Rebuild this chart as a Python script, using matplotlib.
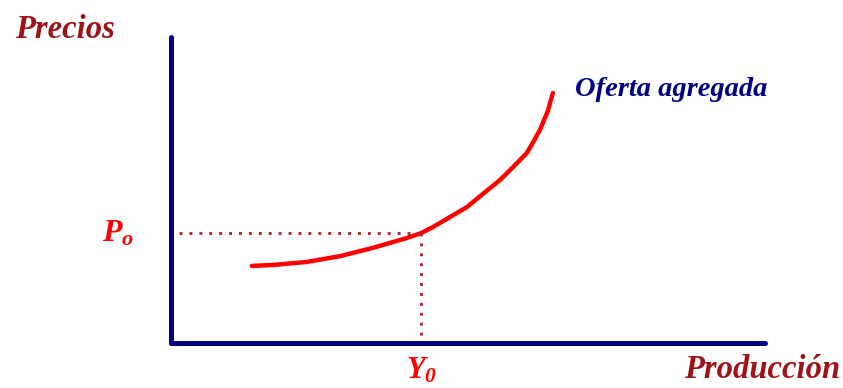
import matplotlib
matplotlib.use("Agg")
import matplotlib.pyplot as plt

# Curva de oferta agregada (unidades del gráfico, 0-10 en cada eje)
produccion = [1.36, 1.72, 2.29, 2.85, 3.40, 3.97, 4.21, 4.41, 4.70, 4.98,
              5.25, 5.54, 5.76, 5.99, 6.09, 6.21, 6.26, 6.35, 6.38, 6.43]
precios = [2.52, 2.55, 2.65, 2.84, 3.11, 3.43, 3.59, 3.79, 4.12, 4.44,
           4.87, 5.33, 5.75, 6.21, 6.54, 6.96, 7.19, 7.61, 7.84, 8.17]

# Punto de equilibrio
y0 = 4.21
p0 = 3.59

plt.rcParams['mathtext.fontset'] = 'custom'
plt.rcParams['mathtext.it'] = 'Liberation Serif:italic:bold'
plt.rcParams['mathtext.rm'] = 'Liberation Serif:italic:bold'

fuente = dict(family='Liberation Serif', style='italic', weight='bold')
rojo_oscuro = '#9E1318'
azul = '#000080'

fig = plt.figure(figsize=(8.43, 3.88), dpi=100)
ax = fig.add_axes([171 / 843, 45 / 388, 594 / 843, 306 / 388])
ax.set_xlim(0, 10)
ax.set_ylim(0, 10)

# Ejes
for lado in ['top', 'right']:
    ax.spines[lado].set_visible(False)
for lado in ['left', 'bottom']:
    ax.spines[lado].set_color(azul)
    ax.spines[lado].set_linewidth(3.6)
    ax.spines[lado].set_capstyle('round')
ax.set_xticks([])
ax.set_yticks([])
ax.patch.set_alpha(0)

# Curva
ax.plot(produccion, precios, color='#FF0000', lw=3.2, solid_capstyle='round',
        solid_joinstyle='round')

# Líneas punteadas hacia los ejes
ax.plot([0.13, y0], [p0, p0], color='#B02838', lw=2.1, ls=(0, (1, 2.4)))
ax.plot([y0, y0], [p0, 0.1], color='#B02838', lw=2.1, ls=(0, (1, 2.4)))

# Textos
fig.text(15 / 843, 1 - 30 / 388, 'Precios', color=rojo_oscuro, fontsize=23.5,
         va='center', ha='left', **fuente)
fig.text(840 / 843, 1 - 370 / 388, 'Producción', color=rojo_oscuro, fontsize=23.5,
         va='center', ha='right', **fuente)
fig.text(575 / 843, 1 - 90 / 388, 'Oferta agregada', color=azul, fontsize=20.5,
         va='center', ha='left', **fuente)
ax.text(-0.62, p0, r'$P_o$', color='#FF0000', fontsize=23, va='center', ha='right')
ax.text(y0, -0.88, r'$Y_0$', color='#FF0000', fontsize=22, va='center', ha='center')

fig.savefig('out.png', dpi=100)
